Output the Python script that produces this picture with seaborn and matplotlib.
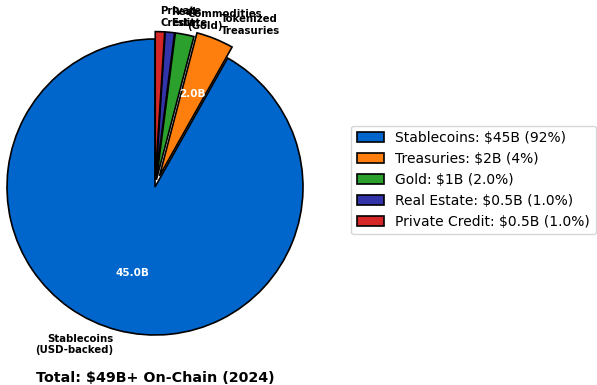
import matplotlib
matplotlib.use("Agg")
import matplotlib.pyplot as plt
import seaborn as sns

sns.set_theme(style="white")
plt.rcParams['font.family'] = ['DejaVu Sans']
plt.rcParams['text.color'] = 'black'

categories = ["Stablecoins\n(USD-backed)", "Tokenized\nTreasuries", "Commodities\n(Gold)",
              "Real\nEstate", "Private\nCredit"]
values = [45, 2, 1, 0.5, 0.5]
legend_labels = ["Stablecoins: $45B (92%)", "Treasuries: $2B (4%)", "Gold: $1B (2.0%)",
                 "Real Estate: $0.5B (1.0%)", "Private Credit: $0.5B (1.0%)"]
colors = ["#0066CC", "#FF7F0E", "#2CA02C", "#3434AA", "#D62728"]
explode = [0, 0.08, 0.05, 0.05, 0.05]
title = "Total: $49B+ On-Chain (2024)"

total = sum(values)

W, H = 597, 385
fig = plt.figure(figsize=(W / 100, H / 100), dpi=100)
ax = fig.add_axes([0, 1 - 360 / H, 310 / W, 360 / H])

wedges, texts, autotexts = ax.pie(
    values, labels=categories, colors=colors, explode=explode,
    startangle=90, autopct=lambda p: f"{p * total / 100:.1f}B" if p > 3 else "",
    wedgeprops=dict(edgecolor="black", linewidth=1.2),
    textprops=dict(fontsize=7.3, fontweight="bold", color="black"),
)
for t in autotexts:
    t.set_color("white")
    t.set_fontsize(7.5)
    t.set_fontweight("bold")

r = 148.0
ax.set_aspect("auto")
ax.set_xlim(-155 / r, 155 / r)
ax.set_ylim(-(360 - 187) / r, 187 / r)
ax.axis("off")

leg = fig.legend(wedges, legend_labels, loc="center left",
                 bbox_to_anchor=(344 / W, 1 - 180 / H), fontsize=10, frameon=True)
for t in leg.get_texts():
    t.set_color("black")

fig.text(155 / W, 1 - 378 / H, title, ha="center", va="center",
         fontsize=10.3, fontweight="bold", color="black")

fig.savefig("out.png", dpi=100)
